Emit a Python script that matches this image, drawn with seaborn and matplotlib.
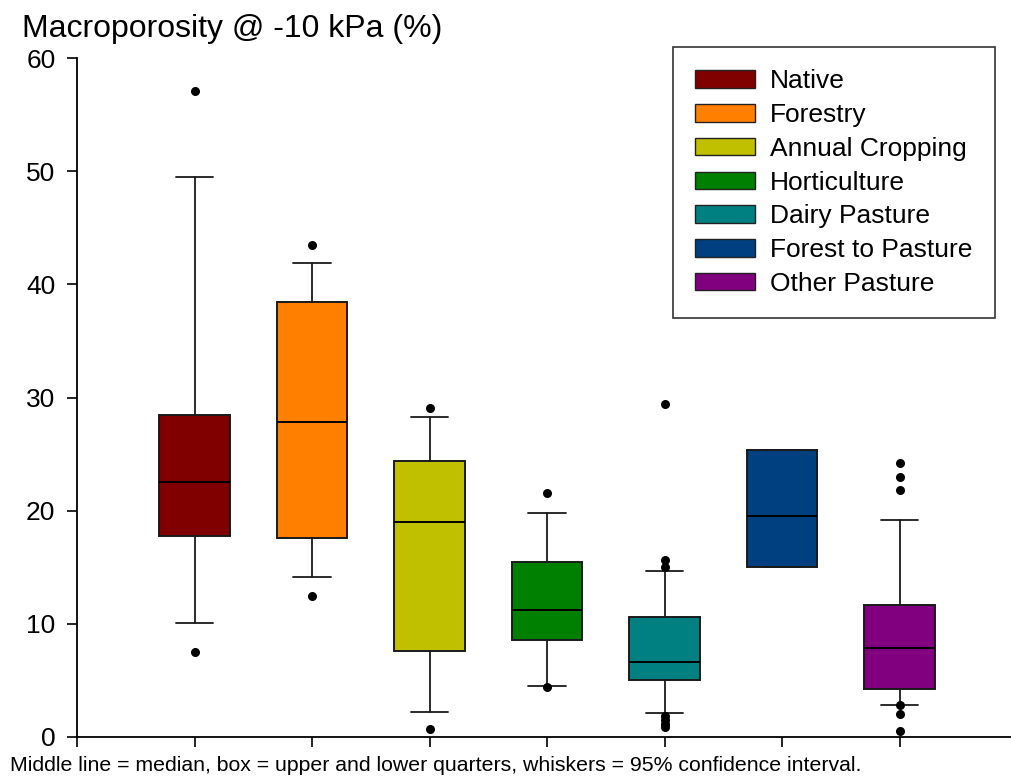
import matplotlib
matplotlib.use("Agg")
import matplotlib.pyplot as plt
import matplotlib.patches as mpatches
import seaborn as sns
import pandas as pd

# ---- data ----
categories = ["Native", "Forestry", "Annual Cropping", "Horticulture",
              "Dairy Pasture", "Forest to Pasture", "Other Pasture"]
colors = ["#800000", "#FF8000", "#C0C000", "#008000", "#008080", "#004080", "#800080"]
whisker_low = [10.1, 14.1, 2.2, 4.5, 2.15, 15.05, 2.85]
q1 = [17.8, 17.6, 7.6, 8.6, 5.05, 15.05, 4.2]
median = [22.5, 27.8, 19.0, 11.2, 6.6, 19.5, 7.9]
q3 = [28.45, 38.4, 24.4, 15.5, 10.6, 25.35, 11.65]
whisker_high = [49.5, 41.9, 28.3, 19.8, 14.7, 25.35, 19.15]
outliers = {
    "Native": [57.1, 7.5],
    "Forestry": [43.5, 12.5],
    "Annual Cropping": [29.1, 0.7],
    "Horticulture": [21.6, 4.4],
    "Dairy Pasture": [29.4, 15.6, 15.0, 1.85, 1.5, 1.15, 0.9],
    "Forest to Pasture": [],
    "Other Pasture": [24.2, 23.0, 21.8, 2.85, 2.0, 0.5],
}
yticks = [0, 10, 20, 30, 40, 50, 60]
title = "Macroporosity @ -10 kPa (%)"
footnote = "Middle line = median, box = upper and lower quarters, whiskers = 95% confidence interval."

# ---- style ----
sns.set_style("ticks")
plt.rcParams["font.family"] = ["Liberation Sans", "DejaVu Sans"]
plt.rcParams["text.color"] = "black"
plt.rcParams["axes.labelcolor"] = "black"
plt.rcParams["xtick.color"] = "black"
plt.rcParams["ytick.color"] = "black"

fig = plt.figure(figsize=(10.12, 7.78), dpi=100)
ax = fig.add_axes([77 / 1012, 1 - 737 / 778, (1017 - 77) / 1012, (737 - 58) / 778])

# outliers via seaborn
rows = [(c, v) for c in categories for v in outliers[c]]
df = pd.DataFrame(rows, columns=["category", "value"])
sns.stripplot(data=df, x="category", y="value", order=categories, jitter=False,
              color="black", size=6.5, linewidth=0, ax=ax, zorder=4)

# boxes from summary statistics
stats = []
for i, c in enumerate(categories):
    stats.append(dict(label=c, med=median[i], q1=q1[i], q3=q3[i],
                      whislo=whisker_low[i], whishi=whisker_high[i], fliers=[]))
bp = ax.bxp(stats, positions=range(len(categories)), widths=0.6, capwidths=0.32,
            patch_artist=True, showfliers=False, manage_ticks=False,
            boxprops=dict(edgecolor="#1a1a1a", linewidth=1.4),
            medianprops=dict(color="black", linewidth=1.4),
            whiskerprops=dict(color="#1a1a1a", linewidth=1.3),
            capprops=dict(color="#1a1a1a", linewidth=1.3))
for patch, col in zip(bp["boxes"], colors):
    patch.set_facecolor(col)

ax.set_xlim(-1, 7)
ax.set_ylim(0, 60)
ax.set_xticks(range(-1, 8))
ax.set_xticklabels([])
ax.set_yticks(yticks)
ax.set_xlabel("")
ax.set_ylabel("")
ax.tick_params(axis="both", direction="out", length=7.5, width=1.2, color="black")
ax.tick_params(axis="y", labelsize=19, pad=8, labelcolor="black")
for s in ["top", "right"]:
    ax.spines[s].set_visible(False)
for s in ["left", "bottom"]:
    ax.spines[s].set_linewidth(1.3)
    ax.spines[s].set_color("black")

handles = [mpatches.Patch(facecolor=col, edgecolor="#222222", linewidth=1.0, label=c)
           for c, col in zip(categories, colors)]
leg = fig.legend(handles=handles, loc="upper right", bbox_to_anchor=(995 / 1012, 1 - 47 / 778),
                 fontsize=19, frameon=True, fancybox=False, edgecolor="black",
                 handlelength=2.27, handleheight=0.64, handletextpad=0.57,
                 labelspacing=0.37, borderpad=0.85, borderaxespad=0)
leg.get_frame().set_linewidth(1.2)
for t in leg.get_texts():
    t.set_color("black")

fig.text(22 / 1012, 1 - 37 / 778, title, fontsize=23, va="baseline", ha="left", color="black")
fig.text(10 / 1012, 1 - 771 / 778, footnote, fontsize=15.3, va="baseline", ha="left", color="black")

fig.savefig("out.png", dpi=100)
